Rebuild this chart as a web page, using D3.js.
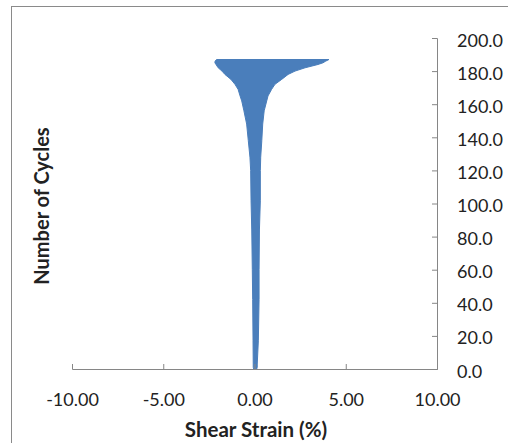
<!DOCTYPE html>
<html>
<head>
<meta charset="utf-8">
<script src="https://cdn.jsdelivr.net/npm/d3@7"></script>
<style>
  html, body { margin: 0; padding: 0; background: #fff; }
  svg { display: block; }
  text { font-family: Lato, "Open Sans", sans-serif; fill: #222; }
</style>
</head>
<body>
<svg id="chart" width="508" height="443"></svg>
<script>
// ---- data ----
const cycles    = [0,     1,     3,     17,    42,    60,    84,    102,   120,   128,   138,   148,   156,   162,   165,   169,   172,   175,   178,   180,   182,   184,   185,   186,   187];
const strainMin = [-0.04, -0.07, -0.07, -0.08, -0.10, -0.12, -0.15, -0.19, -0.21, -0.25, -0.34, -0.43, -0.58, -0.70, -0.79, -0.90, -1.07, -1.29, -1.62, -1.78, -1.99, -2.11, -2.17, -2.16, -2.08];
const strainMax = [0.12,  0.15,  0.15,  0.21,  0.25,  0.25,  0.27,  0.32,  0.32,  0.34,  0.40,  0.45,  0.53,  0.67,  0.74,  0.94,  1.12,  1.49,  1.84,  2.22,  2.77,  3.48,  3.75,  3.90,  4.08];
const xTicks = [-10, -5, 0, 5, 10];
const yTicks = [0, 20, 40, 60, 80, 100, 120, 140, 160, 180, 200];
const xTitle = "Shear Strain (%)";
const yTitle = "Number of Cycles";

const svg = d3.select("#chart");
const axisColor = "#868686";
const fmtX = d => d3.format(".2f")(d).replace("\u2212", "-");
const fmtY = d => d3.format(".1f")(d);

// outer chart frame (extends beyond the visible window)
svg.append("rect")
  .attr("x", 11.5).attr("y", 6.5).attr("width", 700).attr("height", 700)
  .attr("fill", "none").attr("stroke", "#8a8a8a").attr("stroke-width", 1);

const x = d3.scaleLinear().domain([-10, 10]).range([72, 437]);
const y = d3.scaleLinear().domain([0, 200]).range([369, 38]);

const rows = cycles.map((c, i) => ({ c, lo: strainMin[i], hi: strainMax[i] }));

// data band
const area = d3.area()
  .y(d => y(d.c))
  .x0(d => x(d.lo))
  .x1(d => x(d.hi))
  .curve(d3.curveLinear);
svg.append("path")
  .datum(rows)
  .attr("d", area)
  .attr("fill", "#4a7ebb")
  .attr("stroke", "#4a7ebb")
  .attr("stroke-width", 1);

// x axis (ticks pointing up, into the plot)
const xAxis = d3.axisTop(x).tickValues(xTicks).tickSize(5).tickFormat(fmtX);
const gx = svg.append("g").attr("transform", "translate(0,369)").call(xAxis);
gx.select(".domain").attr("stroke", axisColor).attr("d", "M72.5,-5V0.5H437.5V-5");
gx.selectAll(".tick line").attr("stroke", axisColor);
gx.selectAll(".tick text").remove();
gx.selectAll(".tick").append("text")
  .attr("y", 36.7)
  .attr("text-anchor", "middle")
  .style("font-size", "18px")
  .text(fmtX);

// y axis on the right (ticks pointing left)
const yAxis = d3.axisLeft(y).tickValues(yTicks).tickSize(5).tickFormat(fmtY);
const gy = svg.append("g").attr("transform", "translate(437,0)").call(yAxis);
gy.select(".domain").attr("stroke", axisColor).attr("d", "M-5,38.5H0.5V369.5H-5");
gy.selectAll(".tick line").attr("stroke", axisColor);
gy.selectAll(".tick text").remove();
gy.selectAll(".tick").append("text")
  .attr("x", 20)
  .attr("y", 8)
  .attr("text-anchor", "start")
  .style("font-size", "18px")
  .text(fmtY);

// axis titles
svg.append("text")
  .attr("x", 256).attr("y", 437)
  .attr("text-anchor", "middle")
  .style("font-size", "20.5px").style("font-weight", "bold")
  .text(xTitle);

svg.append("text")
  .attr("transform", "translate(49,206) rotate(-90)")
  .attr("text-anchor", "middle")
  .style("font-size", "20px").style("font-weight", "bold")
  .text(yTitle);
</script>
</body>
</html>
